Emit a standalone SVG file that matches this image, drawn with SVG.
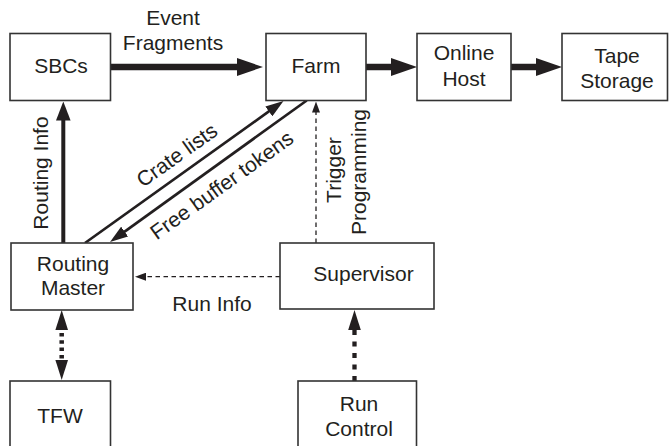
<svg xmlns="http://www.w3.org/2000/svg" width="669" height="446" viewBox="0 0 669 446">
<style>
  .box { fill: #ffffff; stroke: #333333; stroke-width: 1.6; }
  .lbl { font-family: "Liberation Sans", Arial, sans-serif; font-size: 21px; fill: #231f20; text-anchor: middle; }
  .thick { stroke: #231f20; stroke-width: 6.5; fill: none; }
  .med { stroke: #231f20; stroke-width: 4; fill: none; }
  .thin { stroke: #231f20; stroke-width: 2.7; fill: none; }
  .dash { stroke: #231f20; stroke-width: 1.3; fill: none; stroke-dasharray: 4.5 3.5; }
  .bdash { stroke: #231f20; stroke-width: 4.3; fill: none; stroke-dasharray: 5 6.5; }
  .bdot { stroke: #231f20; stroke-width: 4.5; fill: none; stroke-dasharray: 3.5 3.8; stroke-dashoffset: 2.3; }
</style>
<defs>
  <marker id="hBig" markerUnits="userSpaceOnUse" markerWidth="26" markerHeight="18" refX="4" refY="9" orient="auto">
    <path d="M0,0 L26,9 L0,18 z" fill="#231f20"/>
  </marker>
  <marker id="hMed" markerUnits="userSpaceOnUse" markerWidth="19" markerHeight="15" refX="3" refY="7.3" orient="auto">
    <path d="M0,0 L19,7.3 L0,14.6 z" fill="#231f20"/>
  </marker>
  <marker id="hThin" markerUnits="userSpaceOnUse" markerWidth="18" markerHeight="12" refX="3" refY="6" orient="auto">
    <path d="M0,0 L18,6 L0,12 z" fill="#231f20"/>
  </marker>
  <marker id="hDash" markerUnits="userSpaceOnUse" markerWidth="11" markerHeight="8" refX="1" refY="4" orient="auto">
    <path d="M0,0 L11,4 L0,8 z" fill="#231f20"/>
  </marker>
  <marker id="hBold" markerUnits="userSpaceOnUse" markerWidth="20" markerHeight="13" refX="2" refY="6.3" orient="auto-start-reverse">
    <path d="M0,0 L20,6.3 L0,12.6 z" fill="#231f20"/>
  </marker>
</defs>

<g id="connectors">
  <line class="thick" x1="111" y1="67" x2="241" y2="67" marker-end="url(#hBig)"/>
  <line class="thick" x1="366" y1="67" x2="395" y2="67" marker-end="url(#hBig)"/>
  <line class="thick" x1="511" y1="67" x2="540" y2="67" marker-end="url(#hBig)"/>
  <line class="med" x1="63.3" y1="243" x2="63.3" y2="117.5" marker-end="url(#hMed)"/>
  <line class="thin" x1="85" y1="243" x2="271.3" y2="109.7" marker-end="url(#hThin)"/>
  <line class="thin" x1="306.7" y1="100.5" x2="122.2" y2="233.3" marker-end="url(#hThin)"/>
  <line class="dash" x1="316" y1="243" x2="316" y2="111.5" marker-end="url(#hDash)"/>
  <line class="dash" x1="280" y1="276.7" x2="145" y2="276.7" marker-end="url(#hDash)"/>
  <line class="bdash" x1="354.5" y1="381" x2="354.5" y2="328" marker-end="url(#hBold)"/>
  <line class="bdot" x1="61.7" y1="328" x2="61.7" y2="362" marker-start="url(#hBold)" marker-end="url(#hBold)"/>
  <text class="lbl" x="173" y="25">Event</text>
  <text class="lbl" x="173" y="50">Fragments</text>
  <text class="lbl" transform="translate(48,173) rotate(-90)">Routing Info</text>
  <text class="lbl" transform="translate(181,161) rotate(-35.4)">Crate lists</text>
  <text class="lbl" transform="translate(226,191) rotate(-35.6)">Free buffer tokens</text>
  <text class="lbl" transform="translate(341,170) rotate(-90)">Trigger</text>
  <text class="lbl" transform="translate(366,172) rotate(-90)">Programming</text>
  <text class="lbl" x="212" y="310.5">Run Info</text>
</g>

<g id="sbcs">
  <rect class="box" x="10" y="33.5" width="100.5" height="67"/>
  <text class="lbl" x="61" y="73">SBCs</text>
</g>
<g id="farm">
  <rect class="box" x="266" y="33.5" width="100" height="67"/>
  <text class="lbl" x="316" y="73">Farm</text>
</g>
<g id="online-host">
  <rect class="box" x="417" y="33.5" width="94" height="67"/>
  <text class="lbl" x="464" y="60">Online</text>
  <text class="lbl" x="464" y="86">Host</text>
</g>
<g id="tape-storage">
  <rect class="box" x="562" y="33.5" width="105.5" height="67"/>
  <text class="lbl" x="617" y="63">Tape</text>
  <text class="lbl" x="617" y="88">Storage</text>
</g>
<g id="routing-master">
  <rect class="box" x="11" y="243" width="122" height="67"/>
  <text class="lbl" x="73" y="271">Routing</text>
  <text class="lbl" x="73" y="295">Master</text>
</g>
<g id="supervisor">
  <rect class="box" x="280" y="243" width="154" height="66"/>
  <text class="lbl" x="363.5" y="281">Supervisor</text>
</g>
<g id="tfw">
  <rect class="box" x="10" y="381" width="100.5" height="72"/>
  <text class="lbl" x="60" y="422.5">TFW</text>
</g>
<g id="run-control">
  <rect class="box" x="298" y="381" width="118.5" height="72"/>
  <text class="lbl" x="359" y="411">Run</text>
  <text class="lbl" x="359" y="436">Control</text>
</g>
</svg>
